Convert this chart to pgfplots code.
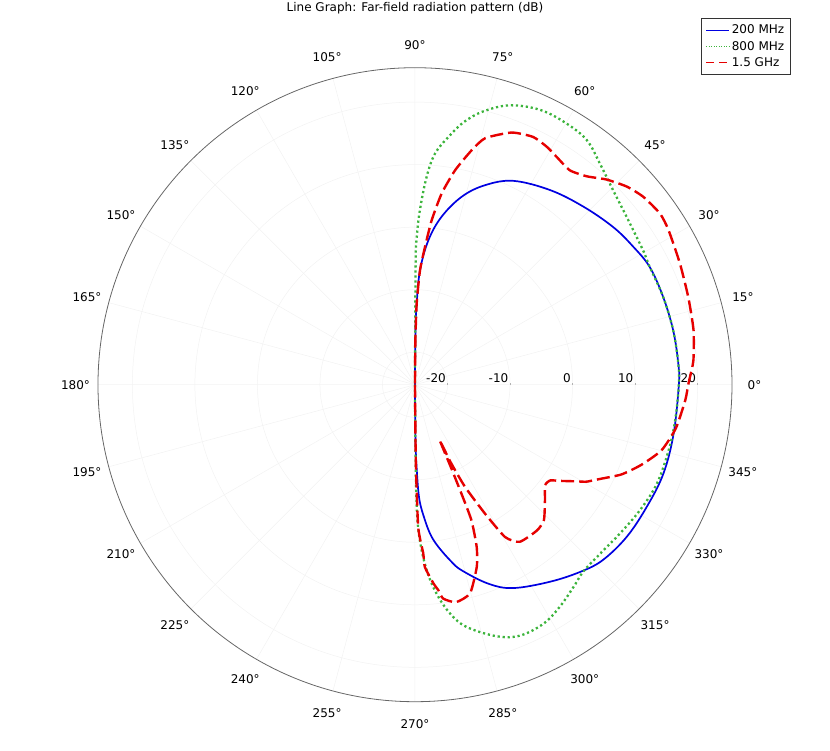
\documentclass[border=0pt]{standalone}
\usepackage{fontspec}
\setmainfont{DejaVu Sans}
\usepackage{pgfplots}
\usepackage{pgfplotstable}
\pgfplotsset{compat=1.18}
\usepgfplotslibrary{polar}
\definecolor{cblue}{RGB}{0,0,225}
\definecolor{cgreen}{RGB}{60,180,60}
\definecolor{cred}{RGB}{230,0,0}

% angle (deg), level (dB)
\pgfplotstableread{
a r
-90 -25.2
-89.5 -16.5
-88.8 -11.5
-87.8 -6.8
-85.8 -3.5
-84 -1.0
-81.8 1.0
-78.5 3.6
-75.9 5.4
-69.8 8.7
-64.3 10.9
-55.6 13.0
-48.3 14.8
-43 15.9
-35.7 16.5
-27.8 16.7
-19.7 17.0
-10.7 16.9
0 17.0
4.6 17.05
11.9 17.0
19.5 16.9
26.6 16.8
32.3 16.1
38.5 15.3
46.6 14.0
55.2 12.7
64.25 11.0
70.7 8.6
76.0 5.8
81.0 2.0
84.7 -2.0
87.5 -6.9
88.8 -12.2
89.5 -16.5
90 -25.2
}\blue

\pgfplotstableread{
a r
-90 -25.2
-89.6 -16.4
-89.2 -5.7
-88.2 -0.3
-86.4 4.5
-84.1 8.4
-81.3 11.8
-78.0 14.4
-72.0 17.1
-67.3 18.3
-61.75 18.2
-56.9 17.2
-51.9 15.9
-47.8 15.0
-42.4 14.9
-36.0 15.3
-29.15 16.0
-22.2 16.6
-14.5 16.7
-7.8 16.8
0 17.0
4.6 17.05
11.9 17.0
19.5 16.9
26.6 16.8
30 17.1
33.7 17.4
38.4 18.0
44.45 19.2
50.1 20.9
54.9 22.6
59.9 23.1
65.5 23.1
71.2 22.0
75.9 19.9
79.5 17.5
82.3 14.8
85.05 11.9
86.8 8.1
88.4 2.7
89.3 -1.55
89.7 -6
90 -25.2
}\green

\pgfplotstableread{
a r
-90 -25.2
-89.4 -13
-88.7 -2.4
-87.2 1.8
-86.9 4.0
-84.7 6.7
-83.5 7.9
-82.5 9.3
-79.3 10.2
-75.2 9.3
-71.3 5.6
-69.2 2.6
-67.4 -1.7
-66.9 -6.3
-66.5 -10.8
-66.0 -15.5
-65.3 -11.5
-63.9 -7.0
-61.5 -1.75
-59.4 3.1
-56.3 5.0
-50.1 5.2
-46.4 4.7
-41.6 2.6
-37.7 1.1
-35.3 1.3
-33.6 2.6
-31 4.8
-29.5 6.3
-27 8.0
-23.5 10.8
-19.5 13.2
-14.9 15.6
-9.5 17.1
-3.3 18.1
0 18.5
1.6 18.8
5.0 19.5
11.1 20.2
17.8 20.7
24.6 21.4
31.4 22.3
34.9 22.6
39.4 22.1
43.05 21.2
46.95 19.7
50.5 18.0
54.15 17.1
58.1 17.7
61.0 18.3
64.5 18.7
69.0 18.0
74.1 15.8
76.4 13.4
79.4 9.7
82.05 5.7
84.2 1.25
85.85 -3.1
87.5 -6.9
88.8 -12.2
89.5 -18
90 -25.2
}\red

\begin{document}
\begin{tikzpicture}
\begin{polaraxis}[
  at={(0,0)}, anchor=center,
  width=634pt, height=634pt, scale only axis,
  xmin=0, xmax=360, ymin=0, ymax=50.7,
  xtick={0,15,...,345}, xticklabels={},
  ytick={5.2,15.2,25.2,35.2,45.2}, yticklabels={-20,-10,0,10,20},
  yticklabel style={anchor=south east, inner sep=1.5pt, font=\fontsize{12}{14}\selectfont},
  grid=major, major grid style={draw=black!5, line width=0.5pt},
  axis line style={draw=black!60, line width=0.8pt},
  y axis line style={draw=none},
  ytick style={draw=black!30, line width=0.4pt}, major tick length=2pt,
  xtick style={draw=none},
  clip=false,
  legend style={at={(1.0931,1.0784)}, anchor=north east, draw=black!80, line width=0.6pt,
    font=\fontsize{12}{14}\selectfont, inner xsep=4.5pt, inner ysep=4.5pt, row sep=2pt,
    cells={anchor=west}},
]
\addplot[cblue, line width=1.7pt, smooth, tension=0.6,
  legend image code/.code={\draw[cblue, line width=1pt] (0pt,0pt) -- (23pt,0pt);}]
  table[x=a, y expr=\thisrow{r}+25.2]{\blue};
\addlegendentry{200 MHz}
\addplot[cgreen, line width=2.3pt, dash pattern=on 2.2pt off 2.8pt, smooth, tension=0.6,
  legend image code/.code={\draw[cgreen, line width=1pt, dash pattern=on 1pt off 1.5pt] (0pt,0pt) -- (23pt,0pt);}]
  table[x=a, y expr=\thisrow{r}+25.2]{\green};
\addlegendentry{800 MHz}
\addplot[cred, line width=2.4pt, dash pattern=on 13pt off 5pt, smooth, tension=0.35,
  legend image code/.code={\draw[cred, line width=1pt, dash pattern=on 8pt off 5pt] (0pt,0pt) -- (23pt,0pt);}]
  table[x=a, y expr=\thisrow{r}+25.2]{\red};
\addlegendentry{1.5 GHz}
\pgfplotsinvokeforeach{0,15,...,345}{
  \node[font=\fontsize{12}{14}\selectfont, inner sep=0pt] at (axis cs:#1,54.3) {#1°};
}
\end{polaraxis}
\node[font=\fontsize{12}{14}\selectfont] at (0,376.7pt) {Line Graph: Far-field radiation pattern (dB)};
\pgfresetboundingbox
\path[use as bounding box] (-415pt,-365.3pt) rectangle (415pt,384.7pt);
\end{tikzpicture}
\end{document}
